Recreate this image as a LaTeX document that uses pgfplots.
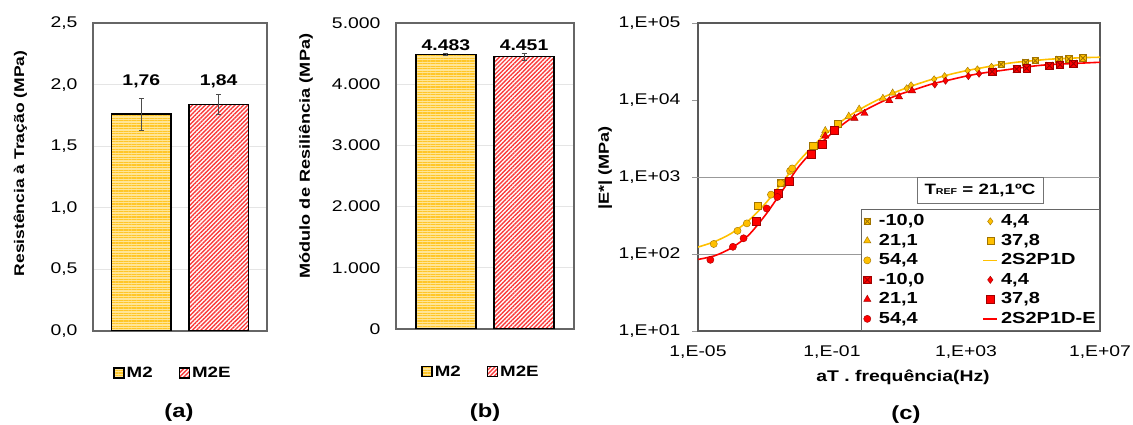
\documentclass[border=0pt]{standalone}
\usepackage{pgfplots}
\pgfplotsset{compat=1.18}
\usepackage{fontspec}
\setmainfont{Liberation Sans}[FakeStretch=1.25]
\usetikzlibrary{patterns.meta}

\definecolor{yel}{RGB}{255,192,0}
\definecolor{yeld}{RGB}{160,115,0}
\definecolor{redd}{RGB}{160,0,0}
\definecolor{m2base}{RGB}{255,229,150}
\definecolor{m2line}{RGB}{255,198,40}
\definecolor{m2eline}{RGB}{250,60,60}

\newcommand{\fs}[1]{\fontsize{#1}{#1}\selectfont}

\pgfdeclareplotmark{sqx}{%
  \pgfpathrectangle{\pgfqpoint{-\pgfplotmarksize}{-\pgfplotmarksize}}{\pgfqpoint{2\pgfplotmarksize}{2\pgfplotmarksize}}%
  \pgfusepathqfillstroke
  \pgfsetlinewidth{0.9pt}%
  \pgfpathmoveto{\pgfqpoint{-\pgfplotmarksize}{-\pgfplotmarksize}}%
  \pgfpathlineto{\pgfqpoint{\pgfplotmarksize}{\pgfplotmarksize}}%
  \pgfpathmoveto{\pgfqpoint{-\pgfplotmarksize}{\pgfplotmarksize}}%
  \pgfpathlineto{\pgfqpoint{\pgfplotmarksize}{-\pgfplotmarksize}}%
  \pgfusepathqstroke
}

\pgfplotsset{
  barax/.style={
    anchor=south west, scale only axis,
    xtick=\empty,
    axis line style={draw=black!60, line width=1.2pt},
    ymajorgrids, grid style={black!10, line width=0.6pt},
    major tick length=0pt, ytick pos=left,
    legend columns=2,
    legend style={draw=none, fill=none, font=\bfseries\fs{15},
      /tikz/every even column/.append style={column sep=24pt}},
    legend image code/.code={\draw[##1, line width=1.3pt] (0pt,-5pt) rectangle (10pt,5pt);},
  },
  lineleg/.style={legend image code/.code={\draw[##1] (-7pt,0pt) -- (7pt,0pt);}},
  markleg/.style={legend image code/.code={\draw[##1] plot coordinates {(0pt,0pt)};}},
  m2bar/.style={ybar, bar width=0.77, bar shift=0pt, draw=black, line width=1.5pt,
    fill=m2base, postaction={pattern={Lines[angle=0,distance=2.6pt,line width=1.1pt]}, pattern color=m2line}},
  m2ebar/.style={ybar, bar width=0.77, bar shift=0pt, draw=black, line width=1.5pt,
    fill=white, postaction={pattern={Lines[angle=45,distance=3pt,line width=1.4pt]}, pattern color=m2eline}},
  errb/.style={forget plot, draw=none, error bars/.cd, y dir=both, y explicit,
    error bar style={draw=black!70, line width=0.8pt},
    error mark options={draw=black!70, rotate=90, mark size=2.5pt, line width=0.8pt}},
  ym/.style={only marks, line width=0.4pt, mark options={fill=yel, draw=yeld}},
  rm/.style={only marks, line width=0.4pt, mark options={fill=red, draw=redd}},
}

\begin{document}
\begin{tikzpicture}

% ---------------- (a)
\begin{axis}[barax,
  at={(93pt,94pt)}, width=174pt, height=308pt,
  xmin=-0.625, xmax=1.625, ymin=0, ymax=2.5,
  ytick={0,0.5,1,1.5,2,2.5},
  yticklabel style={font=\fs{15.5}, xshift=-12pt, /pgf/number format/.cd, fixed, fixed zerofill, precision=1, use comma, assume math mode=true},
  ylabel={Resistência à Tração (MPa)},
  ylabel style={at={(axis description cs:-0.417,0.544)}, anchor=center, font=\bfseries\fs{14}},
  legend style={at={(0.46,-0.136)}, anchor=center},
]
\addplot[m2bar] coordinates {(0,1.76)};
\addlegendentry{M2}
\addplot[m2ebar] coordinates {(1,1.84)};
\addlegendentry{M2E}
\addplot[errb] coordinates {(0,1.76) +- (0,0.13) (1,1.84) +- (0,0.08)};
\node[font=\bfseries\fs{15.5}] at (axis cs:0,2.03) {1,76};
\node[font=\bfseries\fs{15.5}] at (axis cs:1,2.03) {1,84};
\end{axis}
\node[font=\bfseries\fs{19}] at (179pt,12pt) {(a)};

% ---------------- (b)
\begin{axis}[barax,
  at={(396pt,96pt)}, width=178pt, height=306pt,
  xmin=-0.64, xmax=1.64, ymin=0, ymax=5000,
  ytick={0,1000,2000,3000,4000,5000},
  scaled y ticks=false,
  yticklabel style={font=\fs{15.5}, xshift=-12pt, /pgf/number format/.cd, fixed, precision=0, 1000 sep={.}, assume math mode=true},
  ylabel={Módulo de Resiliência (MPa)},
  ylabel style={at={(axis description cs:-0.506,0.565)}, anchor=center, font=\bfseries\fs{14.5}},
  legend style={at={(0.478,-0.14)}, anchor=center},
]
\addplot[m2bar] coordinates {(0,4483)};
\addlegendentry{M2}
\addplot[m2ebar] coordinates {(1,4451)};
\addlegendentry{M2E}
\addplot[errb] coordinates {(0,4483) +- (0,15) (1,4451) +- (0,55)};
\node[font=\bfseries\fs{15.5}] at (axis cs:0,4640) {4.483};
\node[font=\bfseries\fs{15.5}] at (axis cs:1,4640) {4.451};
\end{axis}
\node[font=\bfseries\fs{19}] at (485pt,12pt) {(b)};

% ---------------- (c)
\begin{axis}[
  at={(698pt,94pt)}, anchor=south west, scale only axis, width=402pt, height=308pt,
  xmode=log, ymode=log, xmin=1e-5, xmax=1e7, ymin=10, ymax=1e5,
  xtick={1e-5,1e-1,1e3,1e7},
  xticklabels={{1,E-05},{1,E-01},{1,E+03},{1,E+07}},
  ytick={10,100,1000,10000,100000},
  yticklabels={{1,E+01},{1,E+02},{1,E+03},{1,E+04},{1,E+05}},
  xminorticks=false, yminorticks=false,
  axis line style={draw=black!65, line width=1.2pt},
  tick align=outside, major tick length=6pt,
  ytick pos=left, xtick pos=bottom,
  ytick style={draw=black!40, line width=0.8pt},
  xtick style={draw=none},
  extra y ticks={100,1000}, extra y tick labels={},
  extra y tick style={grid=major, major grid style={black!40, line width=0.8pt}},
  ticklabel style={font=\fs{15.5}},
  yticklabel style={xshift=-8pt},
  xticklabel style={yshift=-5pt},
  xlabel={aT . frequência(Hz)},
  xlabel style={at={(axis description cs:0.51,-0.149)}, anchor=center, font=\bfseries\fs{15.5}},
  ylabel={|E*| (MPa)},
  ylabel style={at={(axis description cs:-0.231,0.529)}, anchor=center, font=\bfseries\fs{14.5}},
  legend columns=2, legend cell align=left,
  markleg,
  legend style={at={(1,0)}, anchor=south east, draw=black!60, line width=0.8pt, fill=white,
    font=\bfseries\fs{16}, inner xsep=2pt, inner ysep=2pt, row sep=0pt, column sep=6pt,
    /tikz/column 2/.style={column sep=56pt},
    /tikz/column 3/.style={column sep=1pt},
    nodes={inner ysep=2.5pt, inner xsep=2pt, text height=11.5pt, text depth=3pt}},
]
% yellow (2S2P1D)
\addplot[ym, mark=sqx, mark size=3.2pt] coordinates {(1.12e4,29000) (6.03e4,30900) (1.17e5,32400) (6.03e5,33800) (1.17e6,34000) (3.09e6,35000)};
\addlegendentry{-10,0}
\addplot[ym, mark=diamond*, mark size=3.6pt] coordinates {(17,14200) (22.9,15500) (112,18600) (229,20400) (1122,24000) (2188,25000) (5754,27000)};
\addlegendentry{4,4}
\addplot[ym, mark=triangle*, mark size=4.2pt] coordinates {(0.0575,3550) (0.063,4000) (0.316,6150) (0.646,7600) (3.31,10500) (6.46,12300)};
\addlegendentry{21,1}
\addplot[ym, mark=square*, mark size=3.6pt] coordinates {(6.17e-4,425) (2.95e-3,850) (0.0275,2570) (0.151,4900)};
\addlegendentry{37,8}
\addplot[ym, mark=*, mark size=3.6pt] coordinates {(2.95e-5,135) (1.51e-4,200) (2.88e-4,250) (1.51e-3,590) (2.95e-3,830) (5.6e-3,1200) (6.46e-3,1290)};
\addlegendentry{54,4}
\addplot[yel, line width=1.6pt, smooth, lineleg] coordinates {
(1e-5,123) (3.162e-5,145) (1e-4,186) (3.162e-4,269) (1e-3,447) (3.162e-3,832) (1e-2,1585) (3.162e-2,2692) (1e-1,4266) (3.162e-1,6166) (1,8318) (3.162,10715) (10,13183) (31.62,15849) (100,18621) (316.2,21380) (1000,23988) (3162,26303) (1e4,28840) (3.162e4,30903) (1e5,32359) (3.162e5,33884) (1e6,34674) (3.162e6,35481) (1e7,35900)};
\addlegendentry{2S2P1D}
% red (2S2P1D-E)
\addplot[rm, mark=sqx, mark size=3.6pt] coordinates {(6026,23400) (3.24e4,25100) (6.46e4,25700) (3.09e5,28000) (6.46e5,28800) (1.62e6,29700)};
\addlegendentry{-10,0}
\addplot[rm, mark=diamond*, mark size=3.6pt] coordinates {(117,15900) (245,17800) (1175,20400) (2455,21900)};
\addlegendentry{4,4}
\addplot[rm, mark=triangle*, mark size=4.2pt] coordinates {(0.063,3400) (0.468,5800) (0.933,6700) (5.13,9800) (10,11000) (24.5,13200)};
\addlegendentry{21,1}
\addplot[rm, mark=square*, mark size=4pt] coordinates {(5.37e-4,270) (2.4e-3,620) (5.13e-3,890) (0.0245,1950) (0.0513,2700) (0.1175,4000)};
\addlegendentry{37,8}
\addplot[rm, mark=*, mark size=3.6pt] coordinates {(2.34e-5,84) (1.1e-4,124) (2.29e-4,160) (1.12e-3,390) (2.34e-3,550)};
\addlegendentry{54,4}
\addplot[red, line width=1.6pt, smooth, lineleg] coordinates {
(1e-5,85) (3.162e-5,95) (1e-4,120) (3.162e-4,174) (1e-3,316) (3.162e-3,646) (1e-2,1349) (3.162e-2,2344) (1e-1,3715) (3.162e-1,5495) (1,7413) (3.162,9550) (10,11749) (31.62,13804) (100,16218) (316.2,18197) (1000,20417) (3162,22387) (1e4,23988) (3.162e4,25704) (1e5,27542) (3.162e5,28840) (1e6,29512) (3.162e6,30200) (1e7,30903)};
\addlegendentry{2S2P1D-E}
\node[draw=black!55, line width=0.8pt, fill=white, font=\bfseries\fs{15}, minimum width=126pt, minimum height=26pt, inner sep=0pt]
  at (axis description cs:0.7015,0.458) {T{\fs{8.5}REF} = 21,1ºC};
\end{axis}
\node[font=\bfseries\fs{19}] at (906pt,10pt) {(c)};
\pgfresetboundingbox
\path[use as bounding box] (0pt,0pt) rectangle (1133pt,425pt);
\end{tikzpicture}
\end{document}
